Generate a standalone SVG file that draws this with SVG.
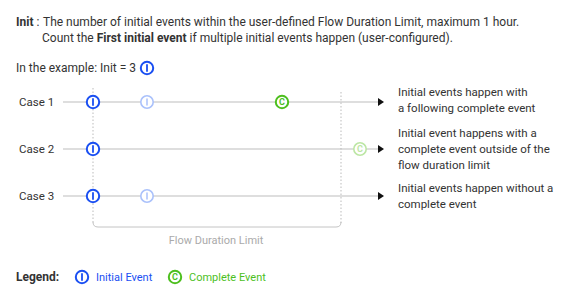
<svg xmlns="http://www.w3.org/2000/svg" width="581" height="295" viewBox="0 0 581 295">
<defs>
<style>
text{font-family:Roboto,"Liberation Sans",sans-serif;fill:#333;}
.t{font-size:12px;}
.b{font-weight:bold;}
.d{font-size:11.5px;}
.case{font-size:11.5px;}
.tl{stroke:#d3d3d3;stroke-width:1.5;fill:none;}
.ib{fill:#fff;stroke:#1a4ff2;stroke-width:2;}
.ibf{fill:#fff;stroke:#aac1fb;stroke-width:1.6;}
.ibar{stroke:#1a4ff2;stroke-width:1.8;stroke-linecap:round;}
.ibarf{stroke:#aac1fb;stroke-width:1.5;stroke-linecap:round;}
.cg{fill:#fff;stroke:#4dbf1e;stroke-width:2;}
.cgf{fill:#fff;stroke:#bce6a4;stroke-width:1.6;}
.ct{font-size:9px;font-weight:bold;text-anchor:middle;}
.dot{stroke:#bbb;stroke-width:1;stroke-dasharray:1.5 2;fill:none;}
</style>
<marker id="ah" viewBox="0 0 6 8" refX="5" refY="4" markerWidth="6" markerHeight="8" markerUnits="userSpaceOnUse" orient="auto">
<path d="M0,0 L6,4 L0,8 z" fill="#111"/>
</marker>
</defs>

<g id="header">
<text class="t" x="16" y="26"><tspan class="b">Init</tspan> :<tspan x="43">The number of initial events within the user-defined Flow Duration Limit, maximum 1 hour.</tspan></text>
<text class="t" x="42" y="42">Count the <tspan class="b">First initial event</tspan> if multiple initial events happen (user-configured).</text>
<text class="t" x="16" y="72">In the example: Init = 3</text>
<circle class="ib" cx="147" cy="68" r="6.2"/>
<line class="ibar" x1="147" y1="65" x2="147" y2="71"/>
</g>

<g id="connectors">
<line class="tl" x1="63" y1="102" x2="383" y2="102" marker-end="url(#ah)"/>
<line class="tl" x1="63" y1="149" x2="383" y2="149" marker-end="url(#ah)"/>
<line class="tl" x1="63" y1="196" x2="383" y2="196" marker-end="url(#ah)"/>
<path class="dot" d="M93,88 L93,223"/>
<path class="dot" d="M341,92 L341,223"/>
<path d="M93,222 Q93,227 98,227 L336,227 Q341,227 341,222" fill="none" stroke="#c4c4c4" stroke-width="1"/>
</g>

<g id="case1">
<text class="case" x="19" y="106">Case 1</text>
<circle class="ib" cx="93" cy="102" r="6.2"/><line class="ibar" x1="93" y1="99" x2="93" y2="105"/>
<circle class="ibf" cx="147" cy="102" r="6.2"/><line class="ibarf" x1="147" y1="99" x2="147" y2="105"/>
<circle class="cg" cx="282" cy="102" r="6.2"/><text class="ct" x="282" y="105.3" style="fill:#4dbf1e">C</text>
<text class="d" x="398" y="96">Initial events happen with</text>
<text class="d" x="398" y="112">a following complete event</text>
</g>

<g id="case2">
<text class="case" x="19" y="153">Case 2</text>
<circle class="ib" cx="93" cy="149" r="6.2"/><line class="ibar" x1="93" y1="146" x2="93" y2="152"/>
<circle class="cgf" cx="360" cy="149" r="6.2"/><text class="ct" x="360" y="152.3" style="fill:#bce6a4">C</text>
<text class="d" x="398" y="137">Initial event happens with a</text>
<text class="d" x="398" y="153">complete event outside of the</text>
<text class="d" x="398" y="169">flow duration limit</text>
</g>

<g id="case3">
<text class="case" x="19" y="200">Case 3</text>
<circle class="ib" cx="93" cy="196" r="6.2"/><line class="ibar" x1="93" y1="193" x2="93" y2="199"/>
<circle class="ibf" cx="147" cy="196" r="6.2"/><line class="ibarf" x1="147" y1="193" x2="147" y2="199"/>
<text class="d" x="398" y="192">Initial events happen without a</text>
<text class="d" x="398" y="208">complete event</text>
</g>

<g id="limit-label">
<text x="216" y="244" style="font-size:11px;fill:#aaa;text-anchor:middle;">Flow Duration Limit</text>
</g>

<g id="legend">
<text class="t b" x="16" y="281">Legend:</text>
<circle class="ib" cx="82" cy="277" r="6.2"/><line class="ibar" x1="82" y1="274" x2="82" y2="280"/>
<text x="96" y="281" style="font-size:11px;fill:#1a4ff2;">Initial Event</text>
<circle class="cg" cx="175" cy="277" r="6.2"/><text class="ct" x="175" y="280.3" style="fill:#4dbf1e">C</text>
<text x="189" y="281" style="font-size:11px;fill:#4dbf1e;">Complete Event</text>
</g>
</svg>
